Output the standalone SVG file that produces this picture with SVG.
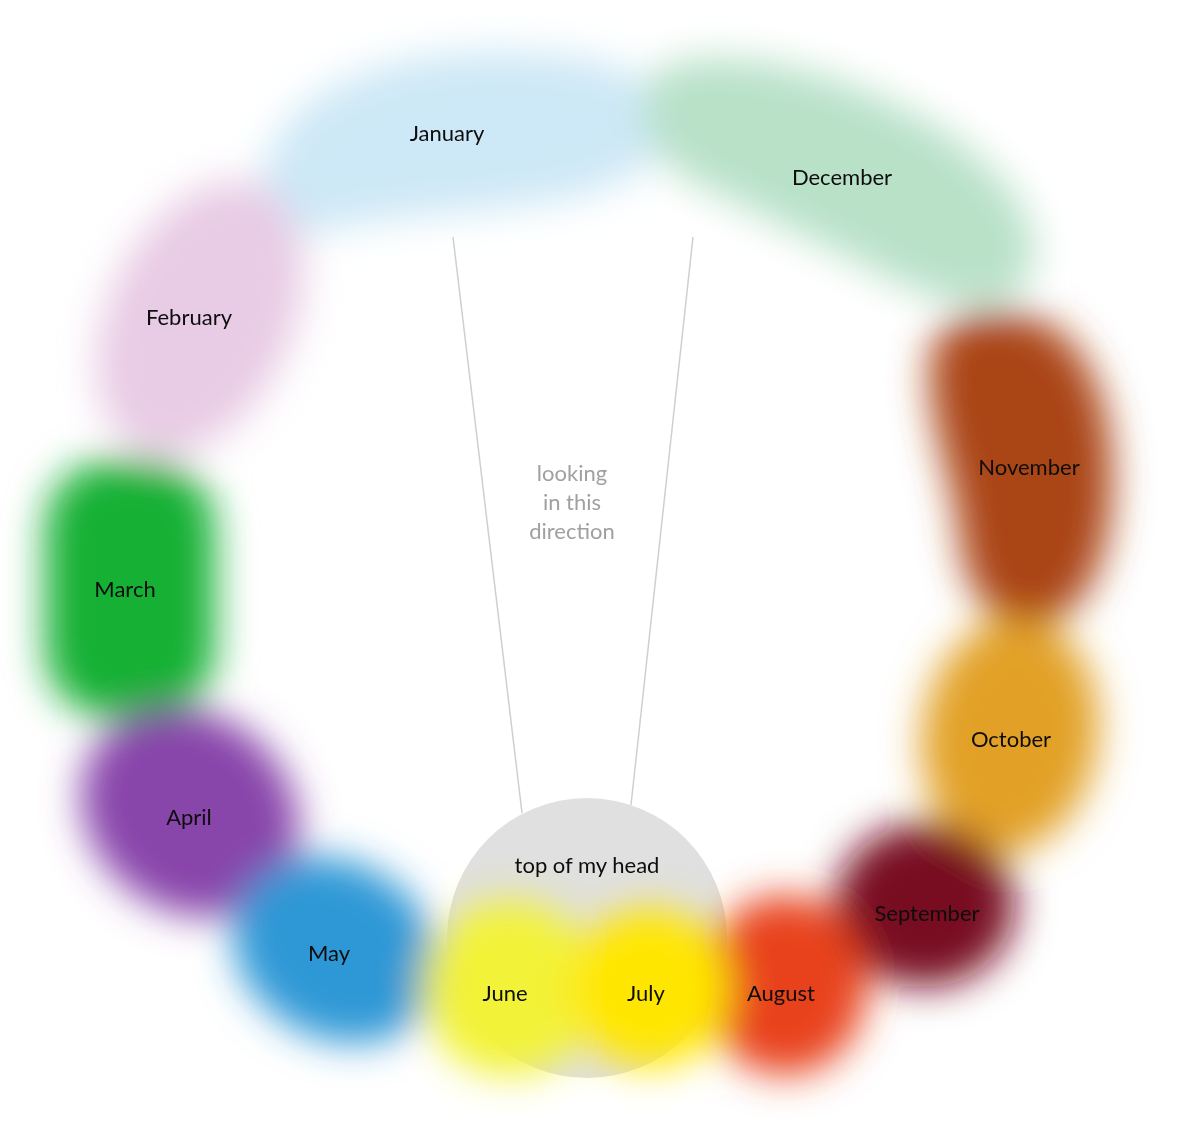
<svg xmlns="http://www.w3.org/2000/svg" width="1200" height="1140" viewBox="0 0 1200 1140">
<style>
.lbl{font-family:Lato,"Open Sans","Liberation Sans",sans-serif;font-size:22px;fill:#0d0d0d;text-anchor:middle;dominant-baseline:central}
.dir{font-family:Lato,"Open Sans","Liberation Sans",sans-serif;font-size:22px;fill:#a0a0a0;text-anchor:middle;dominant-baseline:central}
.ray{stroke:#cfcfcf;stroke-width:1.5;fill:none}
</style>
<defs>
<filter id="blur" x="-50%" y="-50%" width="200%" height="200%">
<feGaussianBlur stdDeviation="19"/>
</filter>
</defs>
<rect width="1200" height="1140" fill="#ffffff"/>
<g id="head-shape">
<circle cx="587" cy="938" r="140" fill="#e0e0e0"/>
</g>
<g id="blobs" filter="url(#blur)">
<path id="b-jan" d="M262,175 C280,90 380,55 480,52 C570,50 640,62 660,100 C680,150 640,185 560,200 C470,215 380,215 320,232 C275,240 255,210 262,175 Z" fill="#cde8f6"/>
<path id="b-dec" d="M648,85 C660,50 740,52 820,75 C900,100 970,140 1010,190 C1045,235 1040,285 1005,300 C965,312 920,295 870,268 C810,238 740,205 690,180 C645,155 638,115 648,85 Z" fill="#b8e1c8"/>
<ellipse id="b-feb" cx="200" cy="318" rx="92" ry="145" transform="rotate(25 200 318)" fill="#e8cbe4"/>
<path id="b-nov" d="M930,360 C935,315 990,300 1040,320 C1095,345 1115,420 1112,490 C1110,560 1085,620 1035,625 C990,628 965,590 960,540 C955,480 925,420 930,360 Z" fill="#aa4516"/>
<rect id="b-mar" x="45" y="460" width="170" height="258" rx="68" fill="#14b034"/>
<ellipse id="b-apr" cx="190" cy="812" rx="115" ry="98" transform="rotate(38 190 812)" fill="#8844aa"/>
<ellipse id="b-may" cx="336" cy="950" rx="108" ry="88" transform="rotate(30 336 950)" fill="#2f98d6"/>
<ellipse id="b-oct" cx="1010" cy="735" rx="88" ry="118" transform="rotate(8 1010 735)" fill="#e2a128"/>
<ellipse id="b-sep" cx="925" cy="905" rx="90" ry="82" fill="#780c24"/>
<ellipse id="b-aug" cx="785" cy="985" rx="82" ry="90" fill="#e8421a"/>
<circle id="b-jun" cx="510" cy="988" r="88" fill="#f2f238"/>
<circle id="b-jul" cx="650" cy="988" r="80" fill="#ffe600"/>
</g>
<g id="connectors">
<line class="ray" x1="453" y1="237" x2="522" y2="813"/>
<line class="ray" x1="693" y1="237" x2="631" y2="805"/>
</g>
<g id="head"><text class="lbl" x="587" y="864">top of my head</text></g>
<g id="direction">
<text class="dir" x="572" y="472">looking</text>
<text class="dir" x="572" y="501">in this</text>
<text class="dir" x="572" y="530">direction</text>
</g>
<g id="january"><text class="lbl" x="447" y="132">January</text></g>
<g id="february"><text class="lbl" x="189" y="316">February</text></g>
<g id="march"><text class="lbl" x="125" y="588">March</text></g>
<g id="april"><text class="lbl" x="189" y="816">April</text></g>
<g id="may"><text class="lbl" x="329" y="952">May</text></g>
<g id="june"><text class="lbl" x="505" y="992">June</text></g>
<g id="july"><text class="lbl" x="646" y="992">July</text></g>
<g id="august"><text class="lbl" x="781" y="992">August</text></g>
<g id="september"><text class="lbl" x="927" y="912">September</text></g>
<g id="october"><text class="lbl" x="1011" y="738">October</text></g>
<g id="november"><text class="lbl" x="1029" y="466">November</text></g>
<g id="december"><text class="lbl" x="842" y="176">December</text></g>
</svg>
